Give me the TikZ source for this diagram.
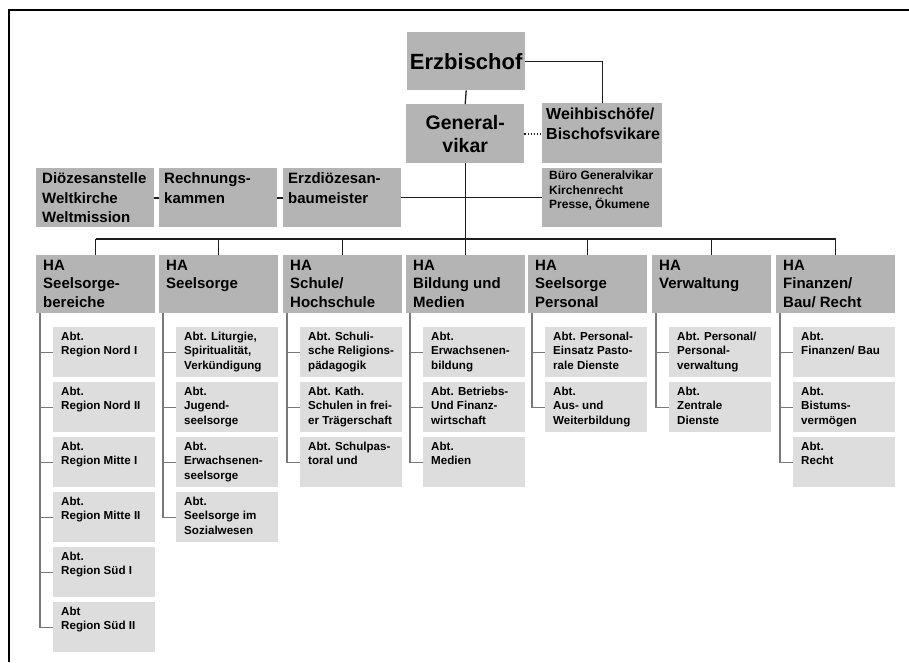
\documentclass[tikz,border=0pt]{standalone}
\usepackage{fontspec}
\setmainfont{Liberation Sans}
\begin{document}
\begin{tikzpicture}[x=1pt,y=-1pt,
  mainbox/.style={fill=boxgray,draw=none,inner sep=0pt,anchor=north west,minimum width=118pt,minimum height=59pt},
  habox/.style={mainbox,minimum width=119pt,minimum height=58pt},
  subbox/.style={fill=subgray,draw=none,inner sep=0pt,anchor=north west,minimum width=102pt,minimum height=50pt},
  hatext/.style={inner sep=0pt,anchor=north west,align=left,font=\fontsize{15}{18.5}\selectfont\bfseries},
  subtext/.style={inner sep=0pt,anchor=north west,align=left,font=\fontsize{11.6}{14.5}\selectfont\bfseries},
  conn/.style={draw=linedark,line width=1.3pt},
  tree/.style={draw=treegray,line width=1.2pt},
  frame/.style={draw=black,line width=2.4pt}
]
\definecolor{boxgray}{RGB}{180,180,180}
\definecolor{subgray}{RGB}{221,221,221}
\definecolor{linedark}{RGB}{30,30,30}
\definecolor{treegray}{RGB}{120,120,120}
\useasboundingbox (0,0) rectangle (909,662);
% frame
\coordinate (ftl) at (9,10);
\coordinate (ftr) at (909,10);
\coordinate (fbl) at (9,662);
\draw[frame] (fbl) -- (ftl) -- (ftr);

% top
\node[mainbox,minimum height=58pt] (erz) at (407,32) {};
\node[inner sep=0pt,font=\fontsize{22}{26}\selectfont\bfseries] (erzt) at (erz.center) {Erzbischof};
\node[mainbox] (gv) at (406,104) {};
\node[inner sep=0pt,align=center,font=\fontsize{19.5}{23}\selectfont\bfseries] (gvt) at (gv.center) {General-\\vikar};
\node[mainbox,minimum width=120pt,minimum height=60pt] (weih) at (542,103) {};
\node[inner sep=0pt,anchor=north west,align=left,font=\fontsize{16}{20}\selectfont\bfseries] (weiht) at ([xshift=4pt,yshift=-4.5pt]weih.north west) {Weihbischöfe/\\Bischofsvikare};
\node[mainbox,minimum width=120pt] (buero) at (542,168) {};
\node[inner sep=0pt,anchor=north west,align=left,font=\fontsize{12}{14.5}\selectfont\bfseries] (buerot) at ([xshift=7pt,yshift=-3pt]buero.north west) {Büro Generalvikar\\Kirchenrecht\\Presse, Ökumene};

\node[mainbox] (dioz) at (36,168) {};
\node[inner sep=0pt,anchor=north west,align=left,font=\fontsize{15}{19.5}\selectfont\bfseries] (diozt) at ([xshift=6pt,yshift=-4.5pt]dioz.north west) {Diözesanstelle\\Weltkirche\\Weltmission};
\node[mainbox] (rech) at (159,168) {};
\node[inner sep=0pt,anchor=north west,align=left,font=\fontsize{15}{19.5}\selectfont\bfseries] (recht) at ([xshift=5pt,yshift=-4.5pt]rech.north west) {Rechnungs-\\kammen};
\node[mainbox] (erzd) at (283,168) {};
\node[inner sep=0pt,anchor=north west,align=left,font=\fontsize{15}{19.5}\selectfont\bfseries] (erzdt) at ([xshift=5pt,yshift=-4.5pt]erzd.north west) {Erzdiözesan-\\baumeister};

% connectors top
\draw[conn] (erz.south) -- (gv.north);
\draw[conn] (erz.east) -| (weih.north);
\coordinate (dl) at (533,134);
\draw[draw=linedark,line width=1.1pt,dotted] (dl -| gv.east) -- (dl -| weih.west);
\draw[conn] (erzd.east) -- (erzd.east -| buero.west);
\coordinate (dash) at (200,198);
\draw[conn] (dash -| dioz.east) -- (dash -| rech.west);
\draw[conn] (dash -| rech.east) -- (dash -| erzd.west);
\coordinate (bus) at (465,239);
\draw[conn] (gv.south) -- (gv.south |- bus);

% HA boxes
\node[habox] (ha1) at (36,255) {};
\node[hatext] at ([xshift=7pt,yshift=-4.5pt]ha1.north west) {HA\\Seelsorge-\\bereiche};
\node[habox] (ha2) at (159,255) {};
\node[hatext] at ([xshift=7pt,yshift=-4.5pt]ha2.north west) {HA\\Seelsorge};
\node[habox] (ha3) at (283,255) {};
\node[hatext] at ([xshift=7pt,yshift=-4.5pt]ha3.north west) {HA\\Schule/\\Hochschule};
\node[habox] (ha4) at (406,255) {};
\node[hatext] at ([xshift=7pt,yshift=-4.5pt]ha4.north west) {HA\\Bildung und\\Medien};
\node[habox] (ha5) at (528,255) {};
\node[hatext] at ([xshift=7pt,yshift=-4.5pt]ha5.north west) {HA\\Seelsorge\\Personal};
\node[habox] (ha6) at (652,255) {};
\node[hatext] at ([xshift=7pt,yshift=-4.5pt]ha6.north west) {HA\\Verwaltung};
\node[habox] (ha7) at (776,255) {};
\node[hatext] at ([xshift=7pt,yshift=-4.5pt]ha7.north west) {HA\\Finanzen/\\Bau/ Recht};

\draw[conn] (ha1.north |- bus) -- (ha7.north |- bus);
\foreach \i in {1,...,7}{
  \draw[conn] (ha\i.north) -- (ha\i.north |- bus);
}

% sub boxes
\newcommand{\subb}[4]{%
  \node[subbox] (#1) at (#2,#3) {};
  \node[subtext] at ([xshift=8pt,yshift=-4.5pt]#1.north west) {#4};
}
% column 1
\subb{s11}{53}{327}{Abt.\\Region Nord I}
\subb{s12}{53}{382}{Abt.\\Region Nord II}
\subb{s13}{53}{437}{Abt.\\Region Mitte I}
\subb{s14}{53}{492}{Abt.\\Region Mitte II}
\subb{s15}{53}{547}{Abt.\\Region Süd I}
\subb{s16}{53}{602}{Abt\\Region Süd II}
% column 2
\subb{s21}{176}{327}{Abt. Liturgie,\\Spiritualität,\\Verkündigung}
\subb{s22}{176}{382}{Abt.\\Jugend-\\seelsorge}
\subb{s23}{176}{437}{Abt.\\Erwachsenen-\\seelsorge}
\subb{s24}{176}{492}{Abt.\\Seelsorge im\\Sozialwesen}
% column 3
\subb{s31}{300}{327}{Abt. Schuli-\\sche Religions-\\pädagogik}
\subb{s32}{300}{382}{Abt. Kath.\\Schulen in frei-\\er Trägerschaft}
\subb{s33}{300}{437}{Abt. Schulpas-\\toral und}
% column 4
\subb{s41}{423}{327}{Abt.\\Erwachsenen-\\bildung}
\subb{s42}{423}{382}{Abt. Betriebs-\\Und Finanz-\\wirtschaft}
\subb{s43}{423}{437}{Abt.\\Medien}
% column 5
\subb{s51}{545}{327}{Abt. Personal-\\Einsatz Pasto-\\rale Dienste}
\subb{s52}{545}{382}{Abt.\\Aus- und\\Weiterbildung}
% column 6
\subb{s61}{669}{327}{Abt. Personal/\\Personal-\\verwaltung}
\subb{s62}{669}{382}{Abt.\\Zentrale\\Dienste}
% column 7
\subb{s71}{793}{327}{Abt.\\Finanzen/ Bau}
\subb{s72}{793}{382}{Abt.\\Bistums-\\vermögen}
\subb{s73}{793}{437}{Abt.\\Recht}

% trees
\foreach \c/\last in {1/6,2/4,3/3,4/3,5/2,6/2,7/3}{
  \coordinate (t\c) at ([xshift=4pt]ha\c.south west);
  \draw[tree] (t\c) |- (s\c\last.west);
  \foreach \k in {1,...,\last}{
    \draw[tree] (s\c\k.west) -- (s\c\k.west -| t\c);
  }
}
\end{tikzpicture}
\end{document}
